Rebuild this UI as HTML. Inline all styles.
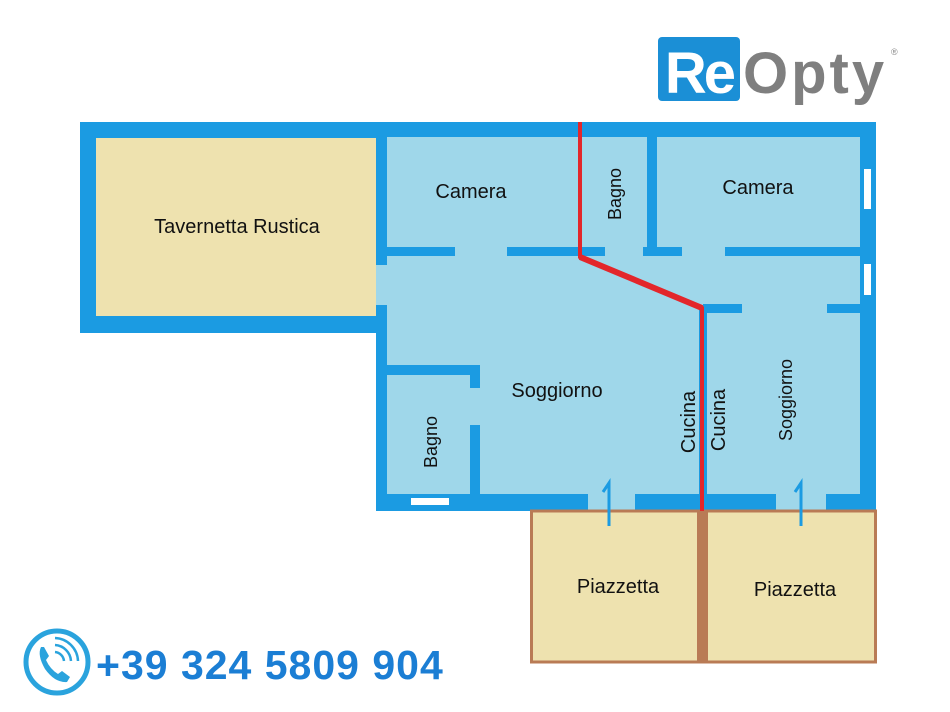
<!DOCTYPE html>
<html><head><meta charset="utf-8"><style>
html,body{margin:0;padding:0;background:#fff;width:950px;height:712px;overflow:hidden}
svg{display:block}
text{font-family:"Liberation Sans",sans-serif}
</style></head><body>
<svg width="950" height="712" viewBox="0 0 950 712">
<rect x="80" y="122" width="310" height="211" fill="#1B9BE2"/>
<rect x="96" y="138" width="280" height="178" fill="#EEE2AF"/>
<rect x="376" y="122" width="500" height="389" fill="#1B9BE2"/>
<rect x="387" y="137" width="473" height="357" fill="#9FD7EA"/>
<rect x="376" y="265" width="11" height="40" fill="#9FD7EA"/>
<g fill="#1B9BE2">
<rect x="387" y="247" width="68" height="9"/>
<rect x="507" y="247" width="98" height="9"/>
<rect x="643" y="247" width="39" height="9"/>
<rect x="725" y="247" width="135" height="9"/>
<rect x="647" y="137" width="10" height="119"/>
<rect x="703" y="304" width="39" height="9"/>
<rect x="827" y="304" width="33" height="9"/>
<rect x="387" y="365" width="93" height="10"/>
<rect x="470" y="365" width="10" height="23"/>
<rect x="470" y="425" width="10" height="70"/>
<rect x="699" y="308" width="8" height="190"/>
</g>
<rect x="588" y="494" width="47" height="17" fill="#9FD7EA"/>
<rect x="776" y="494" width="50" height="17" fill="#9FD7EA"/>
<g fill="#fff" stroke="#1B9BE2" stroke-width="2">
<rect x="863" y="168" width="9" height="42"/>
<rect x="863" y="263" width="9" height="33"/>
<rect x="410" y="497" width="40" height="9"/>
</g>
<rect x="531.5" y="511" width="344" height="151" fill="#EEE2AF" stroke="#B97B55" stroke-width="3"/>
<rect x="697" y="511" width="11" height="152" fill="#B97B55"/>
<polyline points="580,122 580,257 702,308 702,511" fill="none" stroke="#E3262B" stroke-width="4"/>
<line x1="580" y1="257" x2="702" y2="308" stroke="#E3262B" stroke-width="6"/>
<g fill="none" stroke="#1B9BE2" stroke-width="3">
<path d="M609,526 L609,483 L603,492"/>
<path d="M801,526 L801,483 L795,492"/>
</g>
<g font-size="20" fill="#111">
<text x="237" y="233" text-anchor="middle">Tavernetta Rustica</text>
<text x="471" y="198" text-anchor="middle">Camera</text>
<text x="758" y="194" text-anchor="middle">Camera</text>
<text x="557" y="397" text-anchor="middle">Soggiorno</text>
<text x="618" y="593" text-anchor="middle">Piazzetta</text>
<text x="795" y="596" text-anchor="middle">Piazzetta</text>
<text transform="translate(621,194) rotate(-90)" text-anchor="middle" font-size="18">Bagno</text>
<text transform="translate(437,442) rotate(-90)" text-anchor="middle" font-size="18">Bagno</text>
<text transform="translate(695,422) rotate(-90)" text-anchor="middle">Cucina</text>
<text transform="translate(725,420) rotate(-90)" text-anchor="middle">Cucina</text>
<text transform="translate(792,400) rotate(-90)" text-anchor="middle" font-size="18">Soggiorno</text>
</g>
<rect x="658" y="37" width="82" height="64" rx="4" fill="#1B8FD6"/>
<text x="699" y="93" text-anchor="middle" font-size="58" font-weight="bold" fill="#fff" letter-spacing="-3">Re</text>
<text x="743" y="93" font-size="58" font-weight="bold" fill="#7F7F7F" letter-spacing="3">Opty</text>
<text x="891" y="55" font-size="9" fill="#888">®</text>
<circle cx="57" cy="662" r="31" fill="none" stroke="#2AA3DD" stroke-width="5"/>
<path d="M41,647 q-4,8 4,22 q10,14 22,13 l3,-5 l-8,-6 l-4,3 q-8,-5 -12,-14 l3,-4 l-5,-9 z" fill="#2AA3DD"/>
<g fill="none" stroke="#2AA3DD" stroke-width="2.5">
<path d="M55,652 a10,10 0 0 1 9,9"/>
<path d="M55,645 a17,17 0 0 1 16,16"/>
<path d="M55,638 a24,24 0 0 1 23,23"/>
</g>
<text x="96" y="679" font-size="41" font-weight="bold" fill="#1B7ED4" letter-spacing="1">+39 324 5809 904</text>
</svg>
</body></html>
